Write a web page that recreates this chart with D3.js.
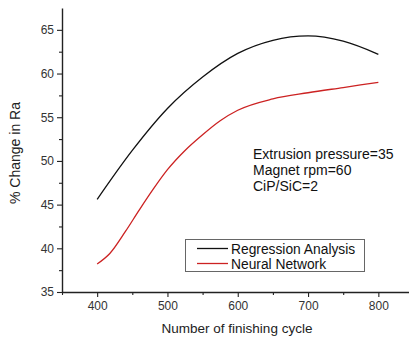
<!DOCTYPE html>
<html><head><meta charset="utf-8">
<script src="https://cdn.jsdelivr.net/npm/d3@7"></script>
<style>
html,body{margin:0;padding:0;background:#fff;}
svg{display:block;font-family:"Liberation Sans",Arial,sans-serif;}
</style></head>
<body>
<svg id="chart" width="409" height="338"></svg>
<script>
const regX = [400, 450, 500, 550, 600, 650, 700, 750, 800];
const regY = [45.6, 51.2, 56.0, 59.6, 62.3, 63.8, 64.3, 63.7, 62.2];
const nnX = [400, 418, 440, 460, 480, 500, 525, 550, 575, 600, 650, 700, 750, 800];
const nnY = [38.2, 39.4, 41.9, 44.4, 46.8, 49.0, 51.2, 53.0, 54.6, 55.8, 57.1, 57.8, 58.4, 59.0];
const xTicks = [400, 500, 600, 700, 800];
const yTicks = [35, 40, 45, 50, 55, 60, 65];
const seriesNames = ["Regression Analysis", "Neural Network"];
const annotations = ["Extrusion pressure=35", "Magnet rpm=60", "CiP/SiC=2"];

const svg = d3.select("#chart");
const mLeft = 62, mBottom = 292, mTop = 8;
const x = d3.scaleLinear().domain([350, 850]).range([mLeft, mLeft + 351.5]);
const y = d3.scaleLinear().domain([35, 67.5]).range([mBottom, mTop]);

// minor ticks
const xMinor = d3.range(350, 851, 50).filter(v => !xTicks.includes(v));
const yMinor = d3.range(37.5, 67.5, 5);

const gx = svg.append("g").attr("transform", `translate(0,${mBottom})`);
gx.call(d3.axisBottom(x).tickValues(xMinor).tickSize(3).tickFormat(""));
gx.call(g => g.select(".domain").remove());
const gx2 = svg.append("g").attr("transform", `translate(0,${mBottom})`)
  .call(d3.axisBottom(x).tickValues(xTicks).tickSize(5).tickSizeOuter(0).tickPadding(4));
gx2.select(".domain").attr("d", `M${mLeft},0.5H409`);

const gy = svg.append("g").attr("transform", `translate(${mLeft},0)`);
gy.call(d3.axisLeft(y).tickValues(yMinor).tickSize(3).tickFormat(""));
gy.call(g => g.select(".domain").remove());
const gy2 = svg.append("g").attr("transform", `translate(${mLeft},0)`)
  .call(d3.axisLeft(y).tickValues(yTicks).tickSize(5).tickSizeOuter(0).tickPadding(3));

svg.selectAll(".tick line").attr("stroke", "#222").attr("stroke-width", 1.1);
svg.selectAll(".domain").attr("stroke", "#222").attr("stroke-width", 1.4);
svg.selectAll(".tick text").attr("font-size", 12).attr("fill", "#333")
  .attr("font-family", "'Liberation Sans',Arial,sans-serif");

const line = d3.line().x(d => x(d[0])).y(d => y(d[1])).curve(d3.curveMonotoneX);
svg.append("path").datum(regX.map((v, i) => [v, regY[i]]))
  .attr("d", line).attr("fill", "none").attr("stroke", "#111").attr("stroke-width", 1.3);
svg.append("path").datum(nnX.map((v, i) => [v, nnY[i]]))
  .attr("d", line).attr("fill", "none").attr("stroke", "#cc2222").attr("stroke-width", 1.3);

// axis titles
svg.append("text").attr("x", 237).attr("y", 333).attr("text-anchor", "middle")
  .attr("font-size", 13.5).attr("fill", "#222").text("Number of finishing cycle");
svg.append("text").attr("transform", "translate(20,153) rotate(-90)").attr("text-anchor", "middle")
  .attr("font-size", 14).attr("fill", "#222").text("% Change in Ra");

// annotation
annotations.forEach((t, i) => {
  svg.append("text").attr("x", 253).attr("y", 159 + i * 16)
    .attr("font-size", 14).attr("fill", "#111").text(t);
});

// legend
svg.append("rect").attr("x", 185.5).attr("y", 239.5).attr("width", 179).attr("height", 32)
  .attr("fill", "#fff").attr("stroke", "#666").attr("stroke-width", 1);
const colors = ["#111", "#cc2222"];
seriesNames.forEach((n, i) => {
  const ly = 248.5 + i * 15;
  svg.append("line").attr("x1", 197).attr("x2", 228).attr("y1", ly).attr("y2", ly)
    .attr("stroke", colors[i]).attr("stroke-width", 1.3);
  svg.append("text").attr("x", 231).attr("y", ly + 5).attr("font-size", 13.8)
    .attr("fill", "#111").text(n);
});
</script>
</body></html>
